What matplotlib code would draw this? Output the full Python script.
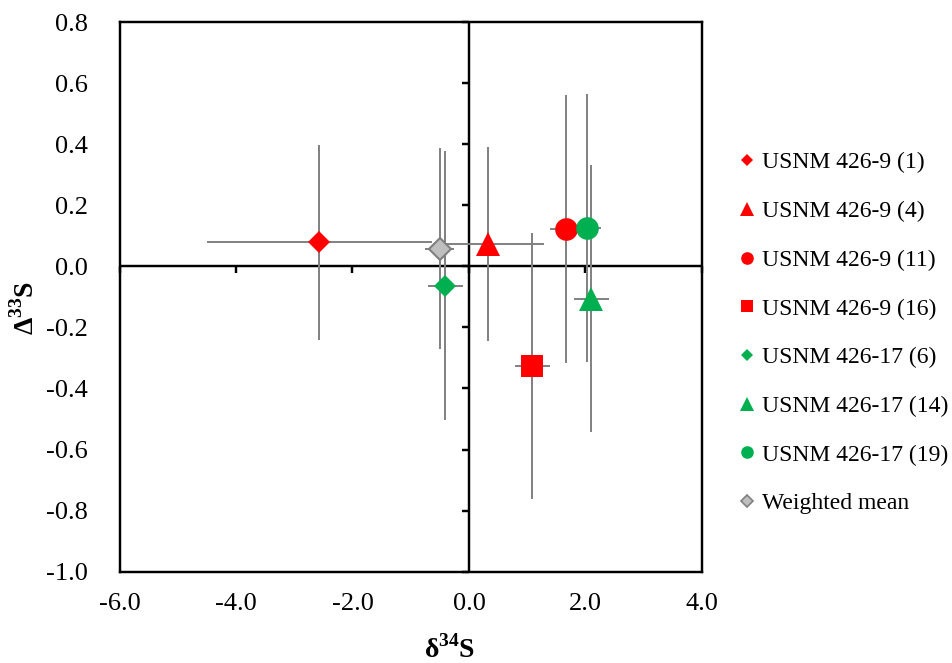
import numpy as np
import matplotlib
matplotlib.use("Agg")
import matplotlib.pyplot as plt
from matplotlib.lines import Line2D

# Sample data: delta-34S vs Delta-33S with 1-sigma uncertainties
labels = [
    "USNM 426-9 (1)",
    "USNM 426-9 (4)",
    "USNM 426-9 (11)",
    "USNM 426-9 (16)",
    "USNM 426-17 (6)",
    "USNM 426-17 (14)",
    "USNM 426-17 (19)",
    "Weighted mean",
]
d34S = [-2.57, 0.33, 1.67, 1.09, -0.41, 2.10, 2.03, -0.50]
D33S = [0.078, 0.074, 0.122, -0.326, -0.063, -0.106, 0.126, 0.058]
d34S_err = [1.93, 0.95, 0.285, 0.295, 0.30, 0.30, 0.23, 0.25]
D33S_err = [0.319, 0.318, 0.439, 0.436, 0.44, 0.438, 0.438, 0.329]

xticks = [-6.0, -4.0, -2.0, 0.0, 2.0, 4.0]
yticks = [-1.0, -0.8, -0.6, -0.4, -0.2, 0.0, 0.2, 0.4, 0.6, 0.8]

RED, GREEN, GREY_FACE, GREY_EDGE = "#FF0000", "#00B050", "#BFBFBF", "#808080"
markers = ["D", "^", "o", "s", "D", "^", "o", "D"]
colors = [RED, RED, RED, RED, GREEN, GREEN, GREEN, GREY_FACE]
edgecolors = [RED, RED, RED, RED, GREEN, GREEN, GREEN, GREY_EDGE]
edgewidths = [0, 0, 0, 0, 0, 0, 0, 1.5]
msize = {"D": 11.5, "^": 17.0, "o": 16.3, "s": 15.6}
leg_msize = {"D": 6.2, "^": 9.4, "o": 9.1, "s": 8.6}

plt.rcParams["font.family"] = ["Liberation Serif", "DejaVu Serif"]
plt.rcParams["mathtext.fontset"] = "custom"
plt.rcParams["mathtext.rm"] = "Liberation Serif"
plt.rcParams["mathtext.bf"] = "Liberation Serif:bold"

fig = plt.figure(figsize=(9.53, 6.63), dpi=100)
ax = fig.add_axes([0.1254, 0.1377, 0.6112, 0.8291])

ax.set_xlim(xticks[0], xticks[-1])
ax.set_ylim(yticks[0], yticks[-1])
ax.set_xticks(xticks)
ax.set_yticks(yticks)
ax.set_xticklabels([f"{v:.1f}" for v in xticks])
ax.set_yticklabels([f"{v:.1f}" for v in yticks])
ax.tick_params(axis="both", length=0, labelsize=19)
ax.tick_params(axis="x", pad=15)
ax.tick_params(axis="y", pad=23)
for sp in ax.spines.values():
    sp.set_linewidth(1.75)
    sp.set_color("black")

# Axes crossing at the origin, with outward tick marks
ax.axhline(0, color="black", lw=1.75, zorder=1)
ax.axvline(0, color="black", lw=1.75, zorder=1)
ax.plot(xticks, np.zeros(len(xticks)), ls="none", marker=3, ms=5,
        mew=1.75, color="black", zorder=1, clip_on=False)
ax.plot(np.zeros(len(yticks)), yticks, ls="none", marker=0, ms=5,
        mew=1.75, color="black", zorder=1, clip_on=False)

# Error bars
ax.errorbar(d34S, D33S, xerr=d34S_err, yerr=D33S_err, fmt="none",
            ecolor="#808080", elinewidth=1.4, capsize=0, zorder=2)

# Markers
handles = []
for xi, yi, m, c, ec, ew, lab in zip(d34S, D33S, markers, colors,
                                     edgecolors, edgewidths, labels):
    ax.plot([xi], [yi], ls="none", marker=m, ms=msize[m], mfc=c, mec=ec,
            mew=ew, zorder=3)
    handles.append(Line2D([], [], ls="none", marker=m, ms=leg_msize[m],
                          mfc=c, mec=ec, mew=ew * 0.8, label=lab))

ax.set_xlabel(r"δ$^{\mathbf{34}}$S", fontsize=20, fontweight="bold")
ax.xaxis.set_label_coords(0.567, -0.115)
ax.set_ylabel(r"Δ$^{\mathbf{33}}$S", fontsize=20, fontweight="bold")
ax.yaxis.set_label_coords(-0.138, 0.48)

fig.legend(handles=handles, loc="upper left",
           bbox_to_anchor=(737.3 / 953, 1 - 152 / 663),
           frameon=False, fontsize=17, handlelength=0.8,
           handletextpad=0.25, labelspacing=1.15, borderpad=0,
           borderaxespad=0)

fig.savefig("out.png", dpi=100, facecolor="white")
